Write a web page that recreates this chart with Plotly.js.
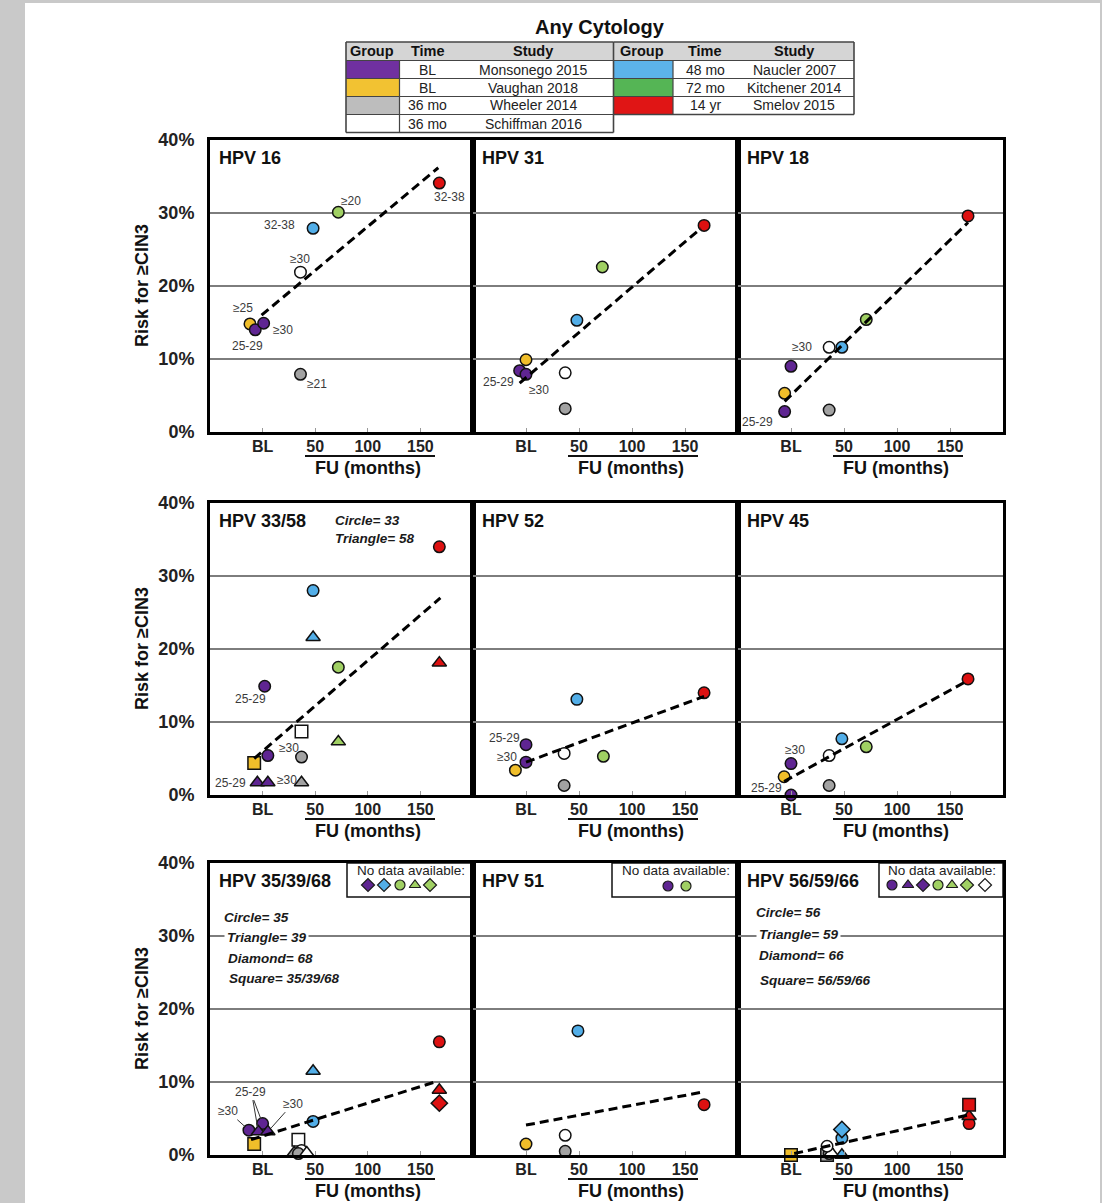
<!DOCTYPE html>
<html><head><meta charset="utf-8">
<script src="https://cdn.plot.ly/plotly-3.0.1.min.js"></script>
<style>html,body{margin:0;padding:0;background:#c8c8c8;}</style>
</head><body>
<div id="chart" style="width:1102px;height:1203px;"></div>
<script>
// ================= DATA =================
const chartTitle = 'Any Cytology';
const yTitle = 'Risk for ≥CIN3';
const xTitle = 'FU (months)';
const panelNames = ['HPV 16','HPV 31','HPV 18','HPV 33/58','HPV 52','HPV 45','HPV 35/39/68','HPV 51','HPV 56/59/66'];
const xTickVals = [0, 50, 100, 150];
const xTickText = ['BL', '50', '100', '150'];
const yTickVals = [0, 10, 20, 30, 40];
const yTickText = ['0%', '10%', '20%', '30%', '40%'];

const studyKeys  = ['Monsonego','Vaughan','Wheeler','Schiffman','Naucler','Kitchener','Smelov'];
const studyNames = ['Monsonego 2015','Vaughan 2018','Wheeler 2014','Schiffman 2016','Naucler 2007','Kitchener 2014','Smelov 2015'];
const studyTimes = ['BL','BL','36 mo','36 mo','48 mo','72 mo','14 yr'];

// HPV 16
const p16X = [168, 72, 48, 36, -12, -7, 1, 36];
const p16Y = [34.1, 30.1, 27.9, 21.9, 14.8, 14.0, 14.9, 7.9];
const p16Study = ['Smelov','Kitchener','Naucler','Schiffman','Vaughan','Monsonego','Monsonego','Wheeler'];
const p16Label = ['32-38','≥20','32-38','≥30','≥25','25-29','≥30','≥21'];
const p16TrendX = [-1, 167];
const p16TrendY = [16.0, 36.2];

// HPV 31
const p31X = [168, 72, 48, 0, -6, 0, 37, 37];
const p31Y = [28.3, 22.6, 15.3, 9.9, 8.4, 7.9, 8.1, 3.2];
const p31Study = ['Smelov','Kitchener','Naucler','Vaughan','Monsonego','Monsonego','Schiffman','Wheeler'];
const p31Label = ['','','','','25-29','≥30','',''];
const p31TrendX = [-6, 165];
const p31TrendY = [6.7, 27.9];

// HPV 18
const p18X = [167, 71, 36, 48, 0, -6, -6, 36];
const p18Y = [29.6, 15.4, 11.6, 11.6, 9.0, 5.3, 2.8, 3.0];
const p18Study = ['Smelov','Kitchener','Schiffman','Naucler','Monsonego','Vaughan','Monsonego','Wheeler'];
const p18Label = ['','','≥30','','','','25-29',''];
const p18TrendX = [-6, 167];
const p18TrendY = [4.2, 28.7];

// HPV 33/58
const p3358X = [168, 48, 48, 168, 72, 2, 37, 72, 37, 5, -8, -5, 5, 37];
const p3358Y = [34.0, 28.0, 21.6, 18.1, 17.5, 14.9, 8.7, 7.3, 5.2, 5.4, 4.4, 1.7, 1.7, 1.7];
const p3358Study = ['Smelov','Naucler','Naucler','Smelov','Kitchener','Monsonego','Schiffman','Kitchener','Wheeler','Monsonego','Vaughan','Monsonego','Monsonego','Wheeler'];
const p3358Type = ['33','33','58','58','33','33','33/58','58','33','33','33/58','58','58','58'];
const p3358Label = ['','','','','','25-29','','','','≥30','','25-29','≥30',''];
const p3358TrendX = [-8, 169];
const p3358TrendY = [5.0, 27.0];

// HPV 52
const p52X = [48, 168, 0, 0, -10, 36, 73, 36];
const p52Y = [13.1, 14.0, 6.9, 4.5, 3.4, 5.7, 5.3, 1.3];
const p52Study = ['Naucler','Smelov','Monsonego','Monsonego','Vaughan','Schiffman','Kitchener','Wheeler'];
const p52Label = ['','','25-29','≥30','','','',''];
const p52TrendX = [0, 168];
const p52TrendY = [4.5, 13.5];

// HPV 45
const p45X = [167, 48, 71, 36, 0, -6.5, 36, 0];
const p45Y = [15.9, 7.7, 6.6, 5.4, 4.3, 2.5, 1.3, 0.0];
const p45Study = ['Smelov','Naucler','Kitchener','Schiffman','Monsonego','Vaughan','Wheeler','Monsonego'];
const p45Label = ['','','','','≥30','','','25-29'];
const p45TrendX = [-6.5, 167];
const p45TrendY = [1.85, 15.7];

// HPV 35/39/68
const p35X = [168, 48, 168, 168, 48, -13, 0, -4, 5, -8, 34, 30, 37, 34, 42];
const p35Y = [15.5, 11.5, 8.9, 7.1, 4.6, 3.4, 4.3, 3.2, 3.2, 1.5, 2.1, 0.3, 0.6, 0.2, 0.3];
const p35Study = ['Smelov','Naucler','Smelov','Smelov','Naucler','Monsonego','Monsonego','Monsonego','Monsonego','Vaughan','Schiffman','Wheeler','Schiffman','Wheeler','Schiffman'];
const p35Type = ['35','39','39','68','35','35','35','39','39','35/39/68','35/39/68','39','35','35','39'];
const p35Label = ['','','','','','≥30','25-29','25-29','≥30','','','','','',''];
const p35TrendX = [-11, 166];
const p35TrendY = [2.1, 10.1];
const noData35Study = ['Monsonego','Naucler','Kitchener','Kitchener','Kitchener'];
const noData35Type = ['68','68','35','39','68'];

// HPV 51
const p51X = [49, 168, 0, 37, 37];
const p51Y = [17.0, 6.9, 1.5, 2.7, 0.5];
const p51Study = ['Naucler','Smelov','Vaughan','Schiffman','Wheeler'];
const p51Label = ['','','','',''];
const p51TrendX = [0, 166];
const p51TrendY = [4.1, 8.6];
const noData51Study = ['Monsonego','Kitchener'];
const noData51Type = ['51','51'];

// HPV 56/59/66
const p56X = [168, 168, 168, 48, 48, 48, 34, 36, 38, 34, 0];
const p56Y = [4.3, 5.3, 6.9, 2.3, 3.5, 0.0, 0.0, 0.2, 0.3, 1.2, 0.0];
const p56Study = ['Smelov','Smelov','Smelov','Naucler','Naucler','Naucler','Wheeler','Wheeler','Schiffman','Schiffman','Vaughan'];
const p56Type = ['56','59','56/59/66','56','66','59','56/59/66','56','59','56','56/59/66'];
const p56Label = ['','','','','','','','','','',''];
const p56TrendX = [3, 168];
const p56TrendY = [0.2, 5.5];
const noData56Study = ['Monsonego','Monsonego','Monsonego','Kitchener','Kitchener','Kitchener','Schiffman'];
const noData56Type = ['56','59','66','56','59','66','66'];

// ================= STYLE =================
const W = 1102, H = 1203;
const FONT = 'Liberation Sans, Arial, Helvetica, sans-serif';
const px = v => v / W;
const py = v => 1 - v / H;

const markerColor = {Monsonego:'#5F2592', Vaughan:'#F0BE2A', Wheeler:'#A2A2A2', Schiffman:'#FFFFFF', Naucler:'#52AEE8', Kitchener:'#A0D063', Smelov:'#DD1111'};
const swatchColor = {Monsonego:'#7030A0', Vaughan:'#F2C232', Wheeler:'#BDBDBD', Schiffman:'#FFFFFF', Naucler:'#5CB3EA', Kitchener:'#55B555', Smelov:'#E01515'};

const cols = [[210, 473], [473, 738], [738, 1003]];
const rows = [[140, 432], [503, 795], [863, 1155]];

const sym3358 = {'33':'circle','58':'triangle-up','33/58':'square'};
const sym35 = {'35':'circle','39':'triangle-up','68':'diamond','35/39/68':'square'};
const sym56 = {'56':'circle','59':'triangle-up','66':'diamond','56/59/66':'square'};
const sym51 = {'51':'circle'};

// label offsets [dx, dy(down)] in px
const p16Shift = [[10,14],[13,-11],[-34,-3],[0,-13],[-7,-16],[-8,16],[19,7],[17,10]];
const p31Shift = [null,null,null,null,[-21,11],[13,16],null,null];
const p18Shift = [null,null,[-27,0],null,null,null,[-27,10],null];
const p3358Shift = [null,null,null,null,null,[-14,13],null,null,null,[21,-8],null,[-27,0],[19,-3],null];
const p52Shift = [null,null,[-22,-7],[-19,-5],null,null,null,null];
const p45Shift = [null,null,null,null,[4,-14],null,null,[-25,-7]];
// leader-line labels (ax, ay, hidden)
const p35Arrow = [null,null,null,null,null,[-21,-19,false],[-12,-32,false],[-7,-40,true],[25,-28,false],null,null,null,null,null,null];

const panels = [
  {x:p16X, y:p16Y, st:p16Study, ty:null, sym:null, lab:p16Label, sh:p16Shift, tx:p16TrendX, tyy:p16TrendY},
  {x:p31X, y:p31Y, st:p31Study, ty:null, sym:null, lab:p31Label, sh:p31Shift, tx:p31TrendX, tyy:p31TrendY},
  {x:p18X, y:p18Y, st:p18Study, ty:null, sym:null, lab:p18Label, sh:p18Shift, tx:p18TrendX, tyy:p18TrendY},
  {x:p3358X, y:p3358Y, st:p3358Study, ty:p3358Type, sym:sym3358, lab:p3358Label, sh:p3358Shift, tx:p3358TrendX, tyy:p3358TrendY},
  {x:p52X, y:p52Y, st:p52Study, ty:null, sym:null, lab:p52Label, sh:p52Shift, tx:p52TrendX, tyy:p52TrendY},
  {x:p45X, y:p45Y, st:p45Study, ty:null, sym:null, lab:p45Label, sh:p45Shift, tx:p45TrendX, tyy:p45TrendY},
  {x:p35X, y:p35Y, st:p35Study, ty:p35Type, sym:sym35, lab:p35Label, arrows:p35Arrow, tx:p35TrendX, tyy:p35TrendY},
  {x:p51X, y:p51Y, st:p51Study, ty:null, sym:null, lab:p51Label, sh:null, tx:p51TrendX, tyy:p51TrendY},
  {x:p56X, y:p56Y, st:p56Study, ty:p56Type, sym:sym56, lab:p56Label, sh:null, tx:p56TrendX, tyy:p56TrendY}
];

const traces = [];
const annotations = [];
const shapes = [];
const layout = {
  width: W, height: H,
  margin: {l:0, r:0, t:0, b:0},
  paper_bgcolor: '#C9C9C9',
  plot_bgcolor: 'rgba(0,0,0,0)',
  showlegend: false,
  font: {family: FONT, color: '#222'},
  annotations: annotations,
  shapes: shapes
};

// white page
shapes.push({type:'rect', xref:'paper', yref:'paper', x0:px(25), x1:px(1100), y0:0, y1:py(3), fillcolor:'#FFFFFF', line:{width:0}, layer:'below'});

panels.forEach((p, i) => {
  const s = i === 0 ? '' : String(i + 1);
  const c = cols[i % 3], r = rows[Math.floor(i / 3)];
  const xa = 'x' + s, ya = 'y' + s;
  layout['xaxis' + s] = {
    domain: [px(c[0]), px(c[1])], range: [-50, 200], anchor: ya,
    tickvals: xTickVals, ticktext: xTickText, ticks: 'inside', ticklen: 4, tickwidth: 1, tickcolor: '#999',
    showline: true, mirror: true, linecolor: '#000', linewidth: 3,
    showgrid: false, zeroline: false, fixedrange: true,
    tickfont: {family: FONT, size: 16, color: '#222', weight: 'bold'}, ticklabelstandoff: -2
  };
  layout['yaxis' + s] = {
    domain: [py(r[1]), py(r[0])], range: [0, 40], anchor: xa,
    tickvals: yTickVals, ticktext: yTickText, showticklabels: (i % 3 === 0), ticks: '',
    showline: true, mirror: true, linecolor: '#000', linewidth: 3,
    showgrid: true, gridcolor: '#7d7d7d', gridwidth: 1.5, zeroline: false, fixedrange: true,
    tickfont: {family: FONT, size: 18, color: '#222', weight: 'bold'}, ticklabelstandoff: 9
  };
  const symbols = p.st.map((_, k) => p.ty ? p.sym[p.ty[k]] : 'circle');
  const sizes = symbols.map(sy => sy === 'circle' ? 11.5 : 12.5);
  traces.push({
    type: 'scatter', mode: 'markers', x: p.x, y: p.y, xaxis: xa, yaxis: ya, cliponaxis: false,
    marker: {color: p.st.map(k => markerColor[k]), symbol: symbols, size: sizes, opacity: 1, line: {color: '#111', width: 1.5}},
    hoverinfo: 'skip'
  });
  traces.push({
    type: 'scatter', mode: 'lines', x: p.tx, y: p.tyy, xaxis: xa, yaxis: ya,
    line: {color: '#000', width: 3, dash: '9px,5px'}, hoverinfo: 'skip'
  });
  // labels
  p.lab.forEach((t, k) => {
    if (!t) return;
    if (p.arrows && p.arrows[k]) {
      const a = p.arrows[k];
      annotations.push({xref: xa, yref: ya, x: p.x[k], y: p.y[k], text: t, showarrow: true,
        ax: a[0], ay: a[1], arrowhead: 0, arrowwidth: 1, arrowcolor: '#333', standoff: 5,
        font: {family: FONT, size: 12, color: a[2] ? 'rgba(0,0,0,0)' : '#3a3a3a'}});
    } else {
      const sh = p.sh && p.sh[k] ? p.sh[k] : [0, 0];
      annotations.push({xref: xa, yref: ya, x: p.x[k], y: p.y[k], text: t, showarrow: false,
        xshift: sh[0], yshift: -sh[1], font: {family: FONT, size: 12, color: '#3a3a3a'}});
    }
  });
  // panel name
  annotations.push({xref: 'paper', yref: 'paper', x: px(c[0] + 7), y: py(r[0] + 18), xanchor: 'left', yanchor: 'middle',
    text: panelNames[i], showarrow: false, font: {family: FONT, size: 18, color: '#111', weight: 'bold'}});
  // FU (months) with overline
  const bl = c[0] + 53;
  shapes.push({type: 'line', xref: 'paper', yref: 'paper', x0: px(bl + 42), x1: px(bl + 172), y0: py(r[1] + 24), y1: py(r[1] + 24), line: {color: '#111', width: 2}});
  annotations.push({xref: 'paper', yref: 'paper', x: px(bl + 105), y: py(r[1] + 36), xanchor: 'center', yanchor: 'middle',
    text: xTitle, showarrow: false, font: {family: FONT, size: 18, color: '#111', weight: 'bold'}});
});

// Y titles
rows.forEach(r => {
  annotations.push({xref: 'paper', yref: 'paper', x: px(142), y: py((r[0] + r[1]) / 2), xanchor: 'center', yanchor: 'middle',
    text: yTitle, textangle: -90, showarrow: false, font: {family: FONT, size: 18, color: '#111', weight: 'bold'}});
});

// Title
annotations.push({xref: 'paper', yref: 'paper', x: px(600), y: py(27), xanchor: 'center', yanchor: 'middle',
  text: chartTitle, showarrow: false, font: {family: FONT, size: 20, color: '#111', weight: 'bold'}});

// Genotype notes
const noteFont = {family: FONT, size: 13.5, color: '#1a1a1a', weight: 'bold', style: 'italic'};
function note(x, y, t, bg) {
  const a = {xref: 'paper', yref: 'paper', x: px(x), y: py(y), xanchor: 'left', yanchor: 'middle', text: t, showarrow: false, font: noteFont};
  if (bg) { a.bgcolor = '#FFFFFF'; a.borderpad = 2; }
  annotations.push(a);
}
note(333, 521, 'Circle= 33'); note(333, 538, 'Triangle= 58');
note(222, 917, 'Circle= 35'); note(224, 937, 'Triangle= 39', true); note(226, 958, 'Diamond= 68'); note(227, 978, 'Square= 35/39/68');
note(754, 912, 'Circle= 56'); note(756, 934, 'Triangle= 59', true); note(757, 956, 'Diamond= 66'); note(758, 980, 'Square= 56/59/66');

// "No data available" boxes
layout.xaxis10 = {domain: [0, 1], range: [0, W], visible: false, fixedrange: true, anchor: 'y10'};
layout.yaxis10 = {domain: [0, 1], range: [H, 0], visible: false, fixedrange: true, anchor: 'x10'};
const boxes = [
  {x0: 347, x1: 473, st: noData35Study, ty: noData35Type, sym: sym35, kx: [368, 384, 400, 415, 430], ky: 885},
  {x0: 612, x1: 738, st: noData51Study, ty: noData51Type, sym: sym51, kx: [668, 686], ky: 886},
  {x0: 879, x1: 1003, st: noData56Study, ty: noData56Type, sym: sym56, kx: [892, 908, 923, 938, 952, 967, 985], ky: 885}
];
boxes.forEach(b => {
  shapes.push({type: 'rect', xref: 'paper', yref: 'paper', x0: px(b.x0), x1: px(b.x1), y0: py(897), y1: py(863),
    fillcolor: '#FFFFFF', line: {color: '#111', width: 1.5}, layer: 'below'});
  annotations.push({xref: 'paper', yref: 'paper', x: px((b.x0 + b.x1) / 2 + 1), y: py(870), xanchor: 'center', yanchor: 'middle',
    text: 'No data available:', showarrow: false, font: {family: FONT, size: 13.5, color: '#222'}});
  traces.push({type: 'scatter', mode: 'markers', xaxis: 'x10', yaxis: 'y10', cliponaxis: false,
    x: b.kx, y: b.kx.map(() => b.ky),
    marker: {color: b.st.map(k => markerColor[k]), symbol: b.ty.map(t => b.sym[t]), size: 10, line: {color: '#1c1c1c', width: 1.2}},
    hoverinfo: 'skip'});
});

// Legend table
const tRows = [42, 60.5, 78.5, 96.5, 114.5, 132.5];
const tL = 346, tLsw = 399.5, tM = 613.5, tRsw = 673, tR = 854;
shapes.push({type: 'rect', xref: 'paper', yref: 'paper', x0: px(tL), x1: px(tR), y0: py(tRows[1]), y1: py(tRows[0]), fillcolor: '#D5D5D5', line: {width: 0}});
const leftN = 4;
studyKeys.forEach((k, j) => {
  const left = j < leftN;
  const row = left ? j : j - leftN;
  const y0 = tRows[row + 1], y1 = tRows[row + 2];
  const sx0 = left ? tL : tM, sx1 = left ? tLsw : tRsw;
  shapes.push({type: 'rect', xref: 'paper', yref: 'paper', x0: px(sx0), x1: px(sx1), y0: py(y1), y1: py(y0), fillcolor: swatchColor[k], line: {width: 0}});
  const ymid = (y0 + y1) / 2;
  annotations.push({xref: 'paper', yref: 'paper', x: px(left ? 428 : 705), y: py(ymid), xanchor: 'center', yanchor: 'middle',
    text: studyTimes[j], showarrow: false, font: {family: FONT, size: 14, color: '#222'}});
  annotations.push({xref: 'paper', yref: 'paper', x: px(left ? 533 : 794), y: py(ymid), xanchor: 'center', yanchor: 'middle',
    text: studyNames[j], showarrow: false, font: {family: FONT, size: 14, color: '#222'}});
});
const hdrs = [['Group', 372], ['Time', 428], ['Study', 533], ['Group', 642], ['Time', 705], ['Study', 794]];
hdrs.forEach(h => annotations.push({xref: 'paper', yref: 'paper', x: px(h[1]), y: py((tRows[0] + tRows[1]) / 2), xanchor: 'center', yanchor: 'middle',
  text: h[0], showarrow: false, font: {family: FONT, size: 14.5, color: '#111', weight: 'bold'}}));
function hl(x0, x1, y, w) { shapes.push({type: 'line', xref: 'paper', yref: 'paper', x0: px(x0), x1: px(x1), y0: py(y), y1: py(y), line: {color: '#444', width: w || 1.2}}); }
function vl(x, y0, y1, w) { shapes.push({type: 'line', xref: 'paper', yref: 'paper', x0: px(x), x1: px(x), y0: py(y0), y1: py(y1), line: {color: '#444', width: w || 1.2}}); }
tRows.forEach((y, j) => hl(tL, tM, y, (j === 0 || j === 5) ? 1.6 : 1.2));
tRows.slice(0, 5).forEach((y, j) => hl(tM, tR, y, (j === 0 || j === 4) ? 1.6 : 1.2));
vl(tL, tRows[0], tRows[5], 1.6); vl(tLsw, tRows[1], tRows[5]); vl(tM, tRows[0], tRows[5], 1.6); vl(tRsw, tRows[1], tRows[4]); vl(tR, tRows[0], tRows[4], 1.6);

Plotly.newPlot('chart', traces, layout, {staticPlot: true, displayModeBar: false});
</script>
</body></html>
